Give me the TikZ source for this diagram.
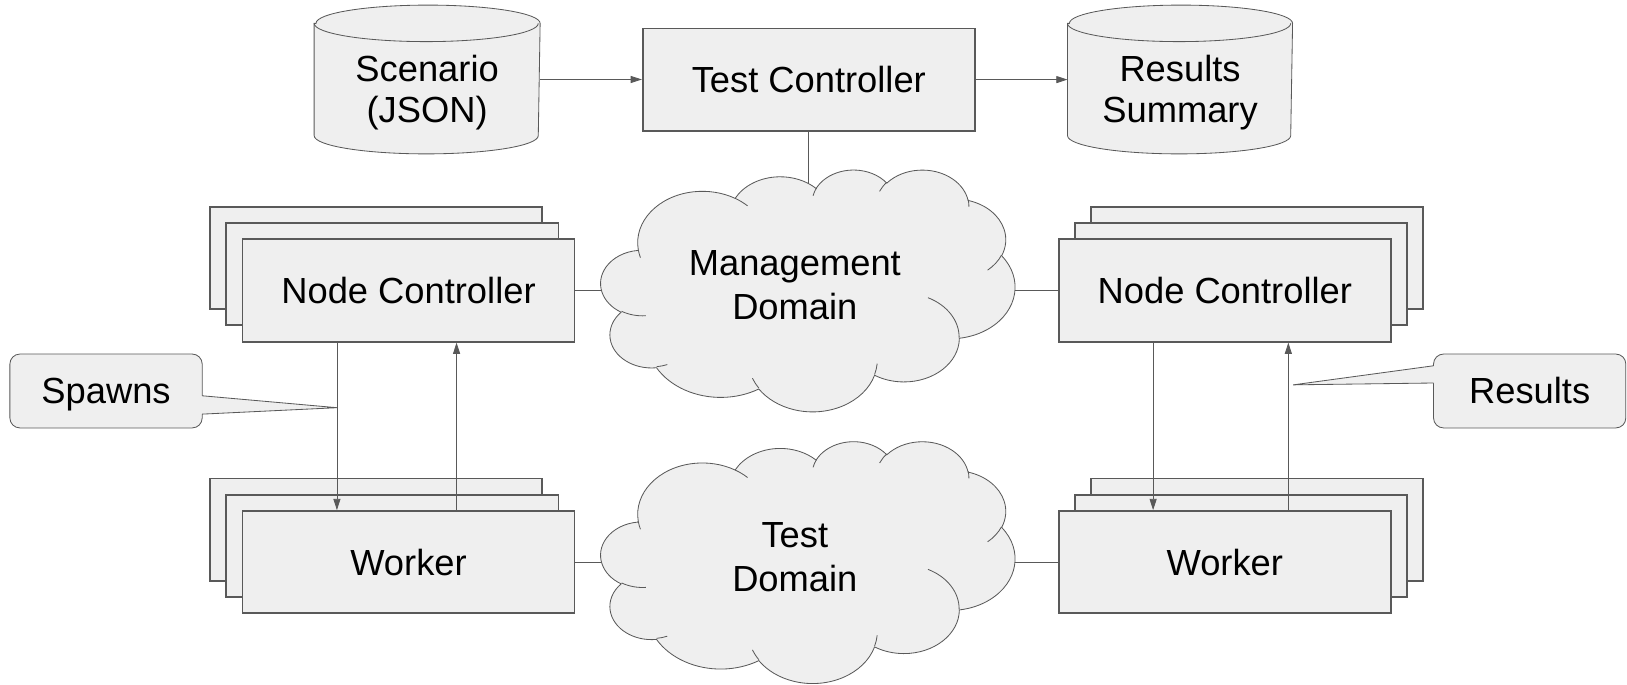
\documentclass[tikz,border=0pt]{standalone}
\usepackage{fontspec}
\setmainfont{Liberation Sans}
\usetikzlibrary{arrows.meta,calc}
\definecolor{linec}{HTML}{595959}
\definecolor{fillc}{HTML}{EFEFEF}
\pgfdeclarelayer{bg}
\pgfdeclarelayer{mid}
\pgfsetlayers{bg,mid,main}

% elliptical arc given by radii, visual start angle and visual sweep (degrees)
\newcommand\cloudarc[4]{arc[start angle={atan2((#1)*sin(#3),(#2)*cos(#3))},
  delta angle={mod(atan2((#1)*sin((#3)+(#4)),(#2)*cos((#3)+(#4)))-atan2((#1)*sin(#3),(#2)*cos(#3))+720,360)},
  x radius=#1, y radius=#2]}

% cloud outline in a 432 x 432 box, y pointing down
\newcommand\cloudoutline{(39,143.7)
  \cloudarc{67.53}{91.90}{-190.4875}{123.7805}
  \cloudarc{53.33}{72.67}{-144.1024}{89.9452}
  \cloudarc{43.65}{59.45}{-145.8079}{99.7230}
  \cloudarc{48.57}{65.95}{-130.9861}{117.2417}
  \cloudarc{53.33}{72.73}{-78.7089}{109.0269}
  \cloudarc{67.75}{92.20}{-46.2673}{130.2690}
  \cloudarc{57.85}{78.67}{0.6250}{114.0333}
  \cloudarc{67.52}{92.15}{22.4516}{115.1726}
  \cloudarc{77.20}{105.43}{66.2426}{75.7110}
  \cloudarc{43.60}{59.18}{-274.9421}{146.7356}
  \cloudarc{43.45}{59.45}{-246.8285}{152.5189} -- cycle}

% inner creases of the cloud
\newcommand\cloudcreases{
  (46.93,261.77) \cloudarc{43.45}{59.45}{86.742}{26.4295}
  (69.28,348.99) \cloudarc{43.60}{59.18}{73.6105}{11.4475}
  (164.78,390.90) \cloudarc{67.52}{92.15}{137.6242}{14.0811}
  (288.27,347.51) \cloudarc{67.52}{92.15}{6.4533}{15.9984}
  (341.29,229.54) \cloudarc{57.85}{78.67}{-70.2924}{70.9174}
  (417.98,153.54) \cloudarc{53.33}{72.73}{30.3180}{27.7515}
  (383.24,54.26) \cloudarc{48.57}{65.95}{-13.7443}{14.8549}
  (290.78,39.52) \cloudarc{48.57}{65.95}{-149.1815}{18.1843}
  (221.41,47.20) \cloudarc{43.65}{59.45}{-163.4943}{17.6864}
  (140.00,51.92) \cloudarc{67.53}{91.90}{-66.7070}{12.3194}
  (41.27,157.89) \cloudarc{67.53}{91.90}{157.6544}{11.8582}}

\begin{document}
\begin{tikzpicture}[x=0.5pt, y=-0.5pt, line width=0.9pt,
  font=\fontsize{17.5pt}{19.75pt}\selectfont,
  box/.style={rectangle, draw=linec, fill=fillc, minimum width=160pt,
    minimum height=49.3pt, inner sep=0pt},
  canframe/.style={rectangle, inner sep=0pt, minimum height=70.8pt},
  cloudframe/.style={rectangle, inner sep=0pt, minimum width=199.5pt,
    minimum height=116.5pt},
  lbl/.style={align=center, inner sep=0pt},
  cloudlbl/.style={lbl, font=\fontsize{17.5pt}{21.2pt}\selectfont},
  calloutbox/.style={rectangle, inner sep=0pt, minimum width=91.75pt,
    minimum height=34.7pt, text height=12.5pt, text depth=0pt},
  outline/.style={draw=linec, fill=fillc},
  link/.style={draw=linec},
  arr/.style={draw=linec, -{Triangle[length=5.4pt, width=3.4pt]}}]

\useasboundingbox (0,0) rectangle (1568,660);

% top row
\node[box] (tc) at (779.5,76.7) {Test Controller};
\node[canframe, minimum width=108pt] (scen) at (411.65,76.6) {};
\node[lbl] (scenT) at ($(scen.center)+(0,12.5)$) {Scenario\\(JSON)};
\node[canframe, minimum width=107.55pt] (res) at (1137.25,76.6) {};
\node[lbl] (resT) at ($(res.center)+(0,12.5)$) {Results\\Summary};

% node controller stacks
\node[box] (ncL3) at (362.7,248.6) {};
\node[box] (ncL2) at (378.2,264.3) {};
\node[box] (ncL)  at (393.7,280) {Node Controller};
\node[box] (ncR3) at (1211.4,248.6) {};
\node[box] (ncR2) at (1195.9,264.3) {};
\node[box] (ncR)  at (1180.4,280) {Node Controller};

% worker stacks
\node[box] (wkL3) at (362.7,510.4) {};
\node[box] (wkL2) at (378.2,526.1) {};
\node[box] (wkL)  at (393.7,541.8) {Worker};
\node[box] (wkR3) at (1211.4,510.4) {};
\node[box] (wkR2) at (1195.9,526.1) {};
\node[box] (wkR)  at (1180.4,541.8) {Worker};

% domains
\node[cloudframe] (mgmt) at (779.5,280.5) {};
\node[cloudlbl] (mgmtT) at ($(mgmt.center)+(-13.5,-5.25)$) {Management\\Domain};
\node[cloudframe] (test) at (779.5,542.3) {};
\node[cloudlbl] (testT) at ($(test.center)+(-13.5,-5.25)$) {Test\\Domain};

% callouts
\node[calloutbox] (spawns) at (102.2,376.8) {Spawns};
\node[calloutbox] (results) at (1474.2,376.8) {Results};
\coordinate (spawnTip) at ($(ncL.south west)+(91.9,62.7)$);
\coordinate (resultTip) at ($(ncR.south west)+(226.8,40.7)$);
\coordinate (spW1) at ($(spawns.north east)+(0,40.2)$);
\coordinate (spW2) at ($(spawns.north east)+(0,57.9)$);
\coordinate (reW1) at ($(results.north west)+(0,11.3)$);
\coordinate (reW2) at ($(results.north west)+(0,27.9)$);

% shapes behind the labels
\begin{pgfonlayer}{mid}
  \path[outline] ($(scen.north west)+(0,17.6)$) -- ($(scen.south west)+(0,-17.6)$)
    arc[start angle=180, end angle=0, x radius=108, y radius=17.6]
    -- ($(scen.north east)+(0,17.6)$)
    arc[start angle=0, end angle=-180, x radius=108, y radius=17.6] -- cycle;
  \draw[linec] ($(scen.north west)+(0,17.6)$)
    arc[start angle=180, end angle=0, x radius=108, y radius=17.6];
  \path[outline] ($(res.north west)+(0,17.6)$) -- ($(res.south west)+(0,-17.6)$)
    arc[start angle=180, end angle=0, x radius=107.55, y radius=17.6]
    -- ($(res.north east)+(0,17.6)$)
    arc[start angle=0, end angle=-180, x radius=107.55, y radius=17.6] -- cycle;
  \draw[linec] ($(res.north west)+(0,17.6)$)
    arc[start angle=180, end angle=0, x radius=107.55, y radius=17.6];

  \foreach \c in {mgmt,test}{
    \begin{scope}[shift={(\c.north west)}, x=0.461806pt, y=-0.269676pt]
      \path[outline] \cloudoutline;
      \path[draw=linec] \cloudcreases;
    \end{scope}}

  \path[outline, rounded corners=4.8pt] (spawns.north west) rectangle (spawns.south east);
  \fill[fillc] ($(spW1)+(-2,0)$) -- (spawnTip) -- ($(spW2)+(-2,0)$) -- cycle;
  \draw[linec] (spW1) -- (spawnTip) -- (spW2);
  \path[outline, rounded corners=4.8pt] (results.north west) rectangle (results.south east);
  \fill[fillc] ($(reW1)+(2,0)$) -- (resultTip) -- ($(reW2)+(2,0)$) -- cycle;
  \draw[linec] (reW1) -- (resultTip) -- (reW2);
\end{pgfonlayer}

% links into the domains
\begin{pgfonlayer}{bg}
  \draw[link] (tc.south) -- (mgmt.center);
  \draw[link] (ncL.east) -- (ncL.east -| mgmt.center);
  \draw[link] (ncR.west) -- (ncR.west -| mgmt.center);
  \draw[link] (wkL.east) -- (wkL.east -| test.center);
  \draw[link] (wkR.west) -- (wkR.west -| test.center);
\end{pgfonlayer}

% arrows
\draw[arr] (scen.east) -- (scen.east -| tc.west);
\draw[arr] (tc.east) -- (tc.east -| res.west);
\draw[arr] ($(ncL.south west)+(91.9,0)$) -- ($(wkL.north west)+(91.9,0)$);
\draw[arr] ($(wkL.north west)+(207.2,0)$) -- ($(ncL.south west)+(207.2,0)$);
\draw[arr] ($(ncR.south west)+(91.8,0)$) -- ($(wkR.north west)+(91.8,0)$);
\draw[arr] ($(wkR.north west)+(222.1,0)$) -- ($(ncR.south west)+(222.1,0)$);
\end{tikzpicture}
\end{document}
